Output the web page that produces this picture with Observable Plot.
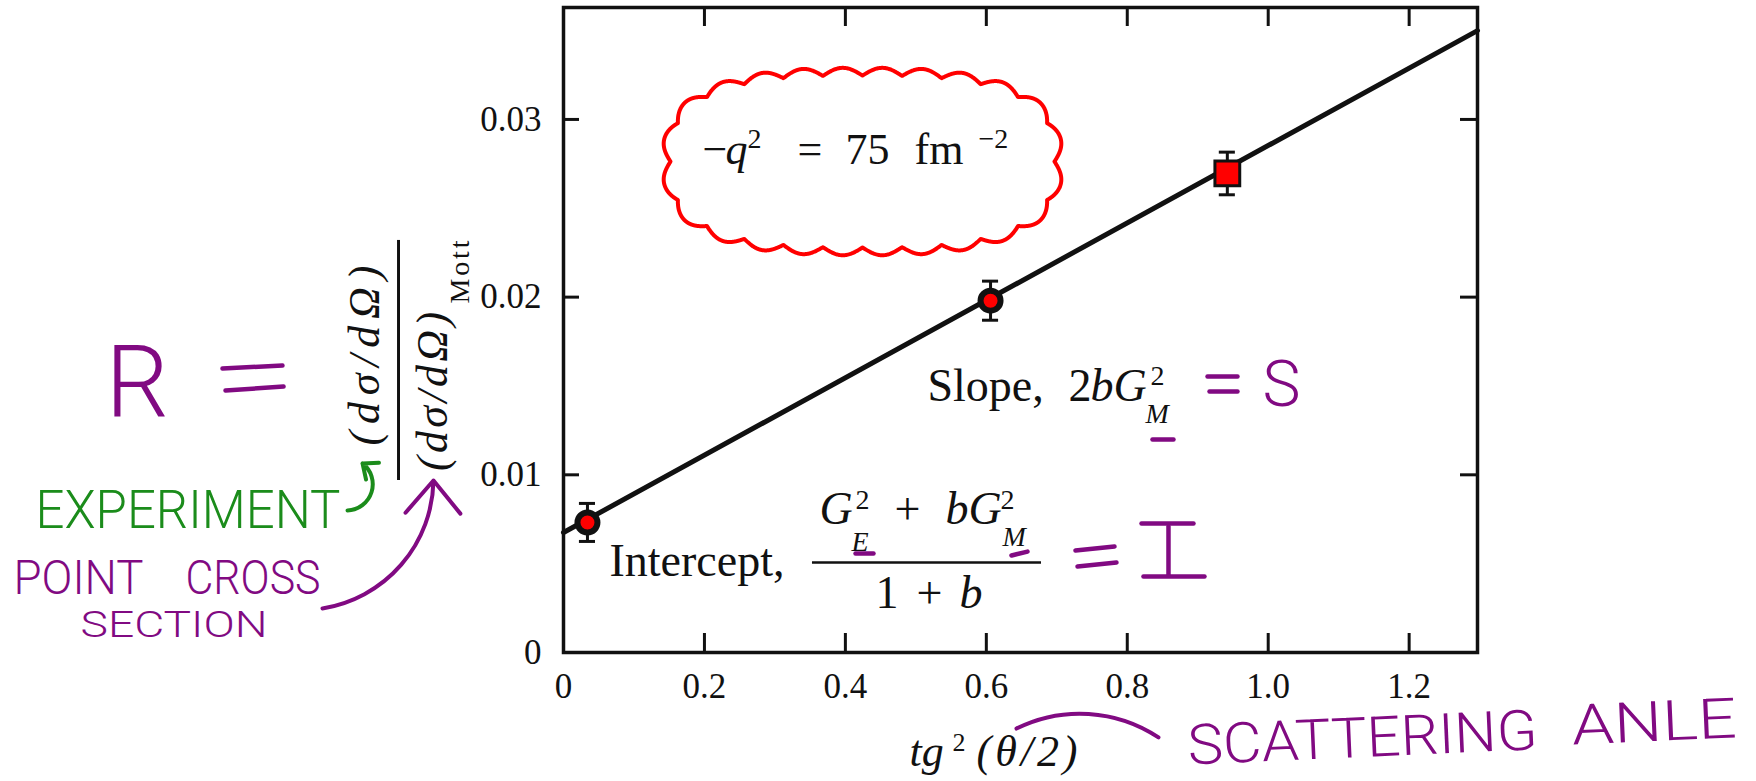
<!DOCTYPE html>
<html><head><meta charset="utf-8">
<script src="https://cdn.jsdelivr.net/npm/d3@7"></script>
<script src="https://cdn.jsdelivr.net/npm/@observablehq/plot@0.6"></script>
<style>html,body{margin:0;padding:0;background:#fff;} svg{display:block}</style>
</head><body><div id="chart"></div>
<script>
// ---------- data ----------
const tanSqHalfTheta = [0.034, 0.606, 0.942];
const ratioR = [0.00732, 0.0198, 0.02696];
const ratioErr = [0.00107, 0.0011, 0.0012];
const markerShape = ["circle", "circle", "square"];
const fitX = [0, 1.297];
const fitY = [0.00675, 0.0350];
const xTickValues = [0, 0.2, 0.4, 0.6, 0.8, 1.0, 1.2];
const xTickLabels = ["0", "0.2", "0.4", "0.6", "0.8", "1.0", "1.2"];
const yTickValues = [0, 0.01, 0.02, 0.03];
const yTickLabels = ["0", "0.01", "0.02", "0.03"];

const points = tanSqHalfTheta.map((x, i) => ({x, y: ratioR[i], err: ratioErr[i], shape: markerShape[i]}));
const fitLine = fitX.map((x, i) => ({x, y: fitY[i]}));

// ---------- annotations (positions in data units) ----------
const SERIF = "Liberation Serif, Times New Roman, serif";
const HAND = "Roboto, Lato, sans-serif";
const PURPLE = "#810a82";
const GREEN = "#1b8c1b";

const uprightText = [
  {t: "Slope,", x: 0.5165, y: 0.01418, s: 46},
  {t: "2", x: 0.7166, y: 0.01418, s: 46},
  {t: "2", x: 0.8330, y: 0.01508, s: 28},
  {t: "Intercept,", x: 0.0653, y: 0.00428, s: 46},
  {t: "2", x: 0.4144, y: 0.00805, s: 28},
  {t: "+", x: 0.4697, y: 0.00726, s: 46},
  {t: "2", x: 0.6201, y: 0.00805, s: 28},
  {t: "1", x: 0.4427, y: 0.00253, s: 46},
  {t: "+", x: 0.5009, y: 0.00253, s: 46},
  {t: "\u2212", x: 0.1972, y: 0.02752, s: 44},
  {t: "2", x: 0.2611, y: 0.02842, s: 28},
  {t: "=", x: 0.3321, y: 0.02752, s: 44},
  {t: "75", x: 0.4002, y: 0.02752, s: 44},
  {t: "fm", x: 0.4981, y: 0.02752, s: 44},
  {t: "\u22122", x: 0.5889, y: 0.02842, s: 28},
  {t: "2", x: 0.5520, y: -0.00552, s: 26}
];
const italicText = [
  {t: "bG", x: 0.7478, y: 0.01418, s: 46},
  {t: "M", x: 0.8259, y: 0.01289, s: 28},
  {t: "G", x: 0.3633, y: 0.00726, s: 46},
  {t: "E", x: 0.4087, y: 0.00574, s: 28},
  {t: "bG", x: 0.5421, y: 0.00726, s: 46},
  {t: "M", x: 0.6230, y: 0.00597, s: 28},
  {t: "b", x: 0.5619, y: 0.00253, s: 46},
  {t: "q", x: 0.2299, y: 0.02752, s: 44},
  {t: "tg", x: 0.4910, y: -0.00636, s: 44},
  {t: "(\u03b8/2)", x: 0.5861, y: -0.00636, s: 44}
];
const fractionBar = [{y: 0.00507, x1: 0.3533, x2: 0.6783}];

// rotated y-axis label: (dσ/dΩ) / (dσ/dΩ)_Mott
const yLabelMain = [
  {t: "(d\u03c3/d\u03a9)", x: -0.2625, y: 0.01671, s: 44},
  {t: "(d\u03c3/d\u03a9)\u200a", x: -0.1660, y: 0.01489, s: 44}
];
const yLabelSub = [{t: "Mott", x: -0.1348, y: 0.01964, s: 28}];
const yLabelBar = [{x: -0.2341, y1: 0.00968, y2: 0.02319}];

// handwritten notes
const handPurple = [
  {t: "R", x: -0.6499, y: 0.01323, s: 100},
  {t: "S", x: 0.9919, y: 0.01390, s: 64},
  {t: "POINT", x: -0.7805, y: 0.00332, s: 48},
  {t: "CROSS", x: -0.5364, y: 0.00332, s: 48},
  {t: "SECTION", x: -0.6854, y: 0.00090, s: 36}
];
const handPurpleTilted = [
  {t: "SCATTERING", x: 0.8869, y: -0.00630, s: 56},
  {t: "ANLE", x: 1.4318, y: -0.00518, s: 56}
];
const handGreen = [{t: "EXPERIMENT", x: -0.7493, y: 0.00703, s: 54}];
const handStrokes = [
  {x1: -0.4839, y1: 0.01598, x2: -0.3988, y2: 0.01615},
  {x1: -0.4796, y1: 0.01474, x2: -0.3973, y2: 0.01497},
  {x1: 0.9139, y1: 0.01553, x2: 0.9564, y2: 0.01553},
  {x1: 0.9167, y1: 0.01469, x2: 0.9564, y2: 0.01469},
  {x1: 0.7265, y1: 0.00574, x2: 0.7819, y2: 0.00597},
  {x1: 0.7294, y1: 0.00484, x2: 0.7847, y2: 0.00507},
  {x1: 0.8202, y1: 0.00726, x2: 0.8940, y2: 0.00726},
  {x1: 0.8585, y1: 0.00709, x2: 0.8585, y2: 0.00440},
  {x1: 0.8230, y1: 0.00428, x2: 0.9096, y2: 0.00428},
  {x1: 0.8358, y1: 0.01199, x2: 0.8656, y2: 0.01199},
  {x1: 0.4144, y1: 0.00557, x2: 0.4399, y2: 0.00557},
  {x1: 0.6357, y1: 0.00546, x2: 0.6584, y2: 0.00568}
];
const purpleArrow = [{x1: -0.3420, y1: 0.00248, x2: -0.1845, y2: 0.00968}];
const greenArrow = [{x1: -0.3065, y1: 0.00799, x2: -0.2852, y2: 0.01064}];
const purpleArc = [{x1: 0.6428, y1: -0.00428, x2: 0.8443, y2: -0.00478}];

// red cloud around the momentum-transfer label
const cloudCenter = {x: 0.4243, y: 0.02763};
const cloudRadius = {x: 0.2725, y: 0.00484};
function cloudOutline() {
  const aspect = 25.2; // y data unit expressed in x data units (screen ratio)
  const n = 2.8, N = 3000;
  const pts = [];
  for (let i = 0; i < N; i++) {
    const t = i / N * 2 * Math.PI, c = Math.cos(t), s = Math.sin(t);
    pts.push([cloudCenter.x + cloudRadius.x * Math.sign(c) * Math.abs(c) ** (2 / n),
              (cloudCenter.y + cloudRadius.y * Math.sign(s) * Math.abs(s) ** (2 / n)) * aspect]);
  }
  const L = [0];
  for (let i = 1; i <= N; i++) {
    const a = pts[i - 1], b = pts[i % N];
    L.push(L[i - 1] + Math.hypot(b[0] - a[0], b[1] - a[1]));
  }
  const bumps = 24, seg = L[N] / bumps, amp = 0.011;
  const out = [];
  for (let i = 0; i <= N; i++) {
    const a = pts[(i - 1 + N) % N], b = pts[(i + 1) % N], p = pts[i % N];
    let nx = b[1] - a[1], ny = -(b[0] - a[0]);
    const len = Math.hypot(nx, ny); nx /= len; ny /= len;
    const h = amp * Math.abs(Math.sin(Math.PI * L[i] / seg));
    out.push({x: p[0] + nx * h, y: (p[1] + ny * h) / aspect});
  }
  return out;
}

const innerH = 781 - 7 - 129, innerW = 1756 - 563 - 279;
const capHalf = 0.0114;

const txt = (data, o) => Plot.text(data, {x: "x", y: "y", text: "t", fontSize: d => d.s,
  textAnchor: "start", lineAnchor: "bottom", ...o});

const chart = Plot.plot({
  width: 1756, height: 781,
  marginLeft: 563, marginRight: 279, marginTop: 7, marginBottom: 129,
  x: {domain: [0, 1.297]},
  y: {domain: [0, 0.0363]},
  style: {background: "#fff", overflow: "visible"},
  marks: [
    // ticks pointing inward on all four sides
    Plot.tickX(xTickValues.slice(1), {x: d => d, insetTop: innerH - 19, stroke: "#111", strokeWidth: 3}),
    Plot.tickX(xTickValues.slice(1), {x: d => d, insetBottom: innerH - 19, stroke: "#111", strokeWidth: 3}),
    Plot.tickY(yTickValues.slice(1), {y: d => d, insetRight: innerW - 16, stroke: "#111", strokeWidth: 3}),
    Plot.tickY(yTickValues.slice(1), {y: d => d, insetLeft: innerW - 17, stroke: "#111", strokeWidth: 3}),
    Plot.axisX(xTickValues, {tickSize: 0, tickPadding: 21, label: null, fontSize: 35, fontFamily: SERIF, fill: "#111",
      tickFormat: d => xTickLabels[xTickValues.indexOf(d)]}),
    Plot.axisY(yTickValues, {tickSize: 0, tickPadding: 22, label: null, fontSize: 35, fontFamily: SERIF, fill: "#111",
      tickFormat: d => yTickLabels[yTickValues.indexOf(d)]}),
    Plot.frame({stroke: "#111", strokeWidth: 3.5}),
    // fitted straight line
    Plot.line(fitLine, {x: "x", y: "y", stroke: "#111", strokeWidth: 5}),
    // error bars
    Plot.ruleX(points, {x: "x", y1: d => d.y - d.err, y2: d => d.y + d.err, stroke: "#111", strokeWidth: 3}),
    Plot.ruleY(points, {y: d => d.y + d.err, x1: d => d.x - capHalf, x2: d => d.x + capHalf, stroke: "#111", strokeWidth: 3}),
    Plot.ruleY(points, {y: d => d.y - d.err, x1: d => d.x - capHalf, x2: d => d.x + capHalf, stroke: "#111", strokeWidth: 3}),
    // markers
    Plot.dot(points, {filter: d => d.shape === "circle", x: "x", y: "y", r: 10, fill: "#ff0000", stroke: "#111", strokeWidth: 6}),
    Plot.dot(points, {filter: d => d.shape === "square", x: "x", y: "y", symbol: "square", r: 14, fill: "#ff0000", stroke: "#111", strokeWidth: 3}),
    // printed annotations
    txt(uprightText, {fontFamily: SERIF, fill: "#111"}),
    txt(italicText, {fontFamily: SERIF, fontStyle: "italic", fill: "#111"}),
    Plot.ruleY(fractionBar, {y: "y", x1: "x1", x2: "x2", stroke: "#111", strokeWidth: 2.5}),
    txt(yLabelMain, {fontFamily: SERIF, fontStyle: "italic", fill: "#111", rotate: -90, textAnchor: "middle"}),
    txt(yLabelSub, {fontFamily: SERIF, fill: "#111", rotate: -90, textAnchor: "start"}),
    Plot.ruleX(yLabelBar, {x: "x", y1: "y1", y2: "y2", stroke: "#111", strokeWidth: 3}),
    // red cloud
    Plot.line(cloudOutline(), {x: "x", y: "y", stroke: "#ff0000", strokeWidth: 4, strokeLinejoin: "round"}),
    // handwritten notes
    txt(handPurple, {fontFamily: HAND, fontWeight: 300, fill: PURPLE}),
    txt(handPurpleTilted, {fontFamily: HAND, fontWeight: 300, fill: PURPLE, rotate: -2.5}),
    txt(handGreen, {fontFamily: HAND, fontWeight: 300, fill: GREEN}),
    Plot.link(handStrokes, {x1: "x1", y1: "y1", x2: "x2", y2: "y2", stroke: PURPLE, strokeWidth: 4.5, strokeLinecap: "round"}),
    Plot.arrow(purpleArrow, {x1: "x1", y1: "y1", x2: "x2", y2: "y2", bend: -40, headLength: 16, headAngle: 80, stroke: PURPLE, strokeWidth: 4}),
    Plot.arrow(greenArrow, {x1: "x1", y1: "y1", x2: "x2", y2: "y2", bend: -70, headLength: 10, headAngle: 80, stroke: GREEN, strokeWidth: 4}),
    Plot.arrow(purpleArc, {x1: "x1", y1: "y1", x2: "x2", y2: "y2", bend: 30, headLength: 0, stroke: PURPLE, strokeWidth: 4})
  ]
});

// stretch some texts to the widths seen in the picture
const fitLengths = new Map([
  ["EXPERIMENT", [305, "spacingAndGlyphs"]],
  ["POINT", [130, "spacingAndGlyphs"]],
  ["CROSS", [135, "spacingAndGlyphs"]],
  ["SECTION", [187, "spacingAndGlyphs"]],
  ["SCATTERING", [350, "spacingAndGlyphs"]],
  ["ANLE", [165, "spacingAndGlyphs"]],
  ["(d\u03c3/d\u03a9)", [180, "spacing"]],
  ["(d\u03c3/d\u03a9)\u200a", [166, "spacing"]],
  ["Mott", [63, "spacing"]],
  ["(\u03b8/2)", [101, "spacing"]]
]);
d3.select(chart).selectAll("text").each(function () {
  const f = fitLengths.get(this.textContent);
  if (f) { this.setAttribute("textLength", f[0]); this.setAttribute("lengthAdjust", f[1]); }
});
document.getElementById("chart").appendChild(chart);
</script>
</body></html>
